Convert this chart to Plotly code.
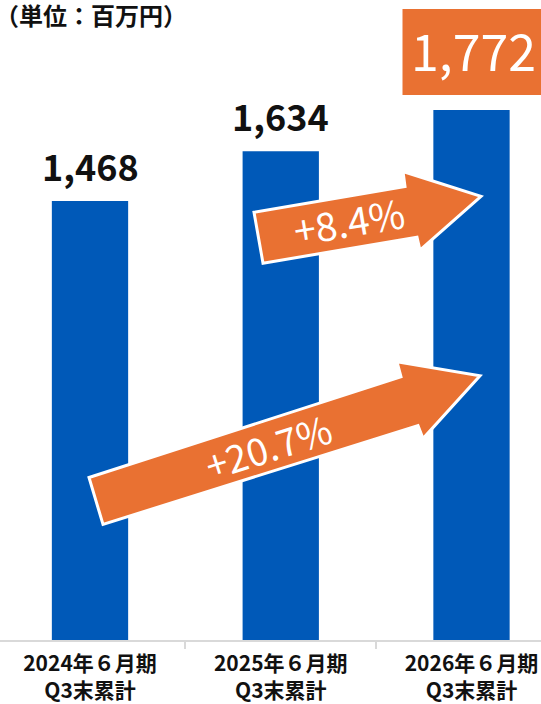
import plotly.graph_objects as go

# ---- data ----
categories = ["2024年６月期<br>Q3末累計", "2025年６月期<br>Q3末累計", "2026年６月期<br>Q3末累計"]
values = [1468, 1634, 1772]
growth_long = "+20.7%"
growth_short = "+8.4%"
unit_label = "（単位：百万円）"

BLUE = "#0059B8"
ORANGE = "#E97132"
FONT = "Noto Sans CJK JP"

W, H = 541, 704
PLOT_H = 642  # plot area height in px (top margin 0)


def px(x, y):
    """pixel -> paper coordinates for decorative shapes"""
    return x / W, (PLOT_H - y) / PLOT_H


def path_from(points):
    parts = []
    for i, (x, y) in enumerate(points):
        X, Y = px(x, y)
        parts.append(("M" if i == 0 else "L") + f"{X:.5f},{Y:.5f}")
    return " ".join(parts) + " Z"


fig = go.Figure()
fig.add_trace(go.Bar(
    x=categories, y=values, marker_color=BLUE, width=0.4,
    marker_line_width=0, hoverinfo="skip",
))

annotations = []
shapes = []
# value labels for first two bars
for c, v in zip(categories[:2], values[:2]):
    annotations.append(dict(
        x=c, y=v, xref="x", yref="y", text=f"{v:,}", showarrow=False,
        xanchor="center", yanchor="bottom", yshift=8,
        font=dict(family=FONT, size=36, color="#111111", weight="bold"),
    ))
# highlighted last value: orange box (pixel-sized shape anchored to the bar top) + text
shapes.append(dict(
    type="rect", xref="x", yref="y",
    xsizemode="pixel", ysizemode="pixel",
    xanchor=2, yanchor=values[2],
    x0=-69, x1=72, y0=15, y1=101,
    fillcolor=ORANGE, line=dict(width=0), layer="above",
))
annotations.append(dict(
    x=categories[2], y=values[2], xref="x", yref="y", text=f"{values[2]:,}",
    showarrow=False, xanchor="center", yanchor="middle", yshift=61, xshift=2,
    font=dict(family=FONT, size=50, color="white"),
))
# unit label
annotations.append(dict(
    x=0, y=1, xref="paper", yref="paper", xanchor="left", yanchor="top",
    text=unit_label, showarrow=False, yshift=5, xshift=-7,
    font=dict(family=FONT, size=24, color="#111111", weight="bold"),
))

# arrows (decorations)
big_arrow = [(89, 479), (401, 378), (397, 363), (480, 377), (423, 440), (418, 427), (103, 526)]
small_arrow = [(254, 213), (405, 187), (403, 172), (481, 197), (420, 251), (417, 238), (263, 264)]
for pts in (big_arrow, small_arrow):
    shapes.append(dict(type="path", xref="paper", yref="paper", path=path_from(pts),
                       fillcolor=ORANGE, line=dict(color="white", width=3), layer="above"))

bx, by = px(268, 447)
annotations.append(dict(x=bx, y=by, xref="paper", yref="paper", text=growth_long,
                        showarrow=False, textangle=-17.6, xanchor="center", yanchor="middle",
                        font=dict(family=FONT, size=38, color="white")))
sx, sy = px(349, 221)
annotations.append(dict(x=sx, y=sy, xref="paper", yref="paper", text=growth_short,
                        showarrow=False, textangle=-9.5, xanchor="center", yanchor="middle",
                        font=dict(family=FONT, size=39, color="white")))

spacing = 190.75
center0 = 90
fig.update_layout(
    width=W, height=H,
    margin=dict(l=0, r=0, t=0, b=H - PLOT_H),
    paper_bgcolor="white", plot_bgcolor="white",
    showlegend=False,
    annotations=annotations, shapes=shapes,
    xaxis=dict(
        type="category",
        range=[-center0 / spacing, (W - center0) / spacing],
        showline=True, linecolor="#d9d9d9", linewidth=1.5,
        ticks="outside", tickson="boundaries", ticklen=7, tickcolor="#d9d9d9", tickwidth=1.5,
        ticklabelstandoff=4,
        tickfont=dict(family=FONT, size=21, color="#111111", weight="bold"),
        showgrid=False, zeroline=False, fixedrange=True,
    ),
    yaxis=dict(range=[0, PLOT_H / 0.3], visible=False, showgrid=False, fixedrange=True),
)

fig.write_html("out.html", config={"displayModeBar": False})
